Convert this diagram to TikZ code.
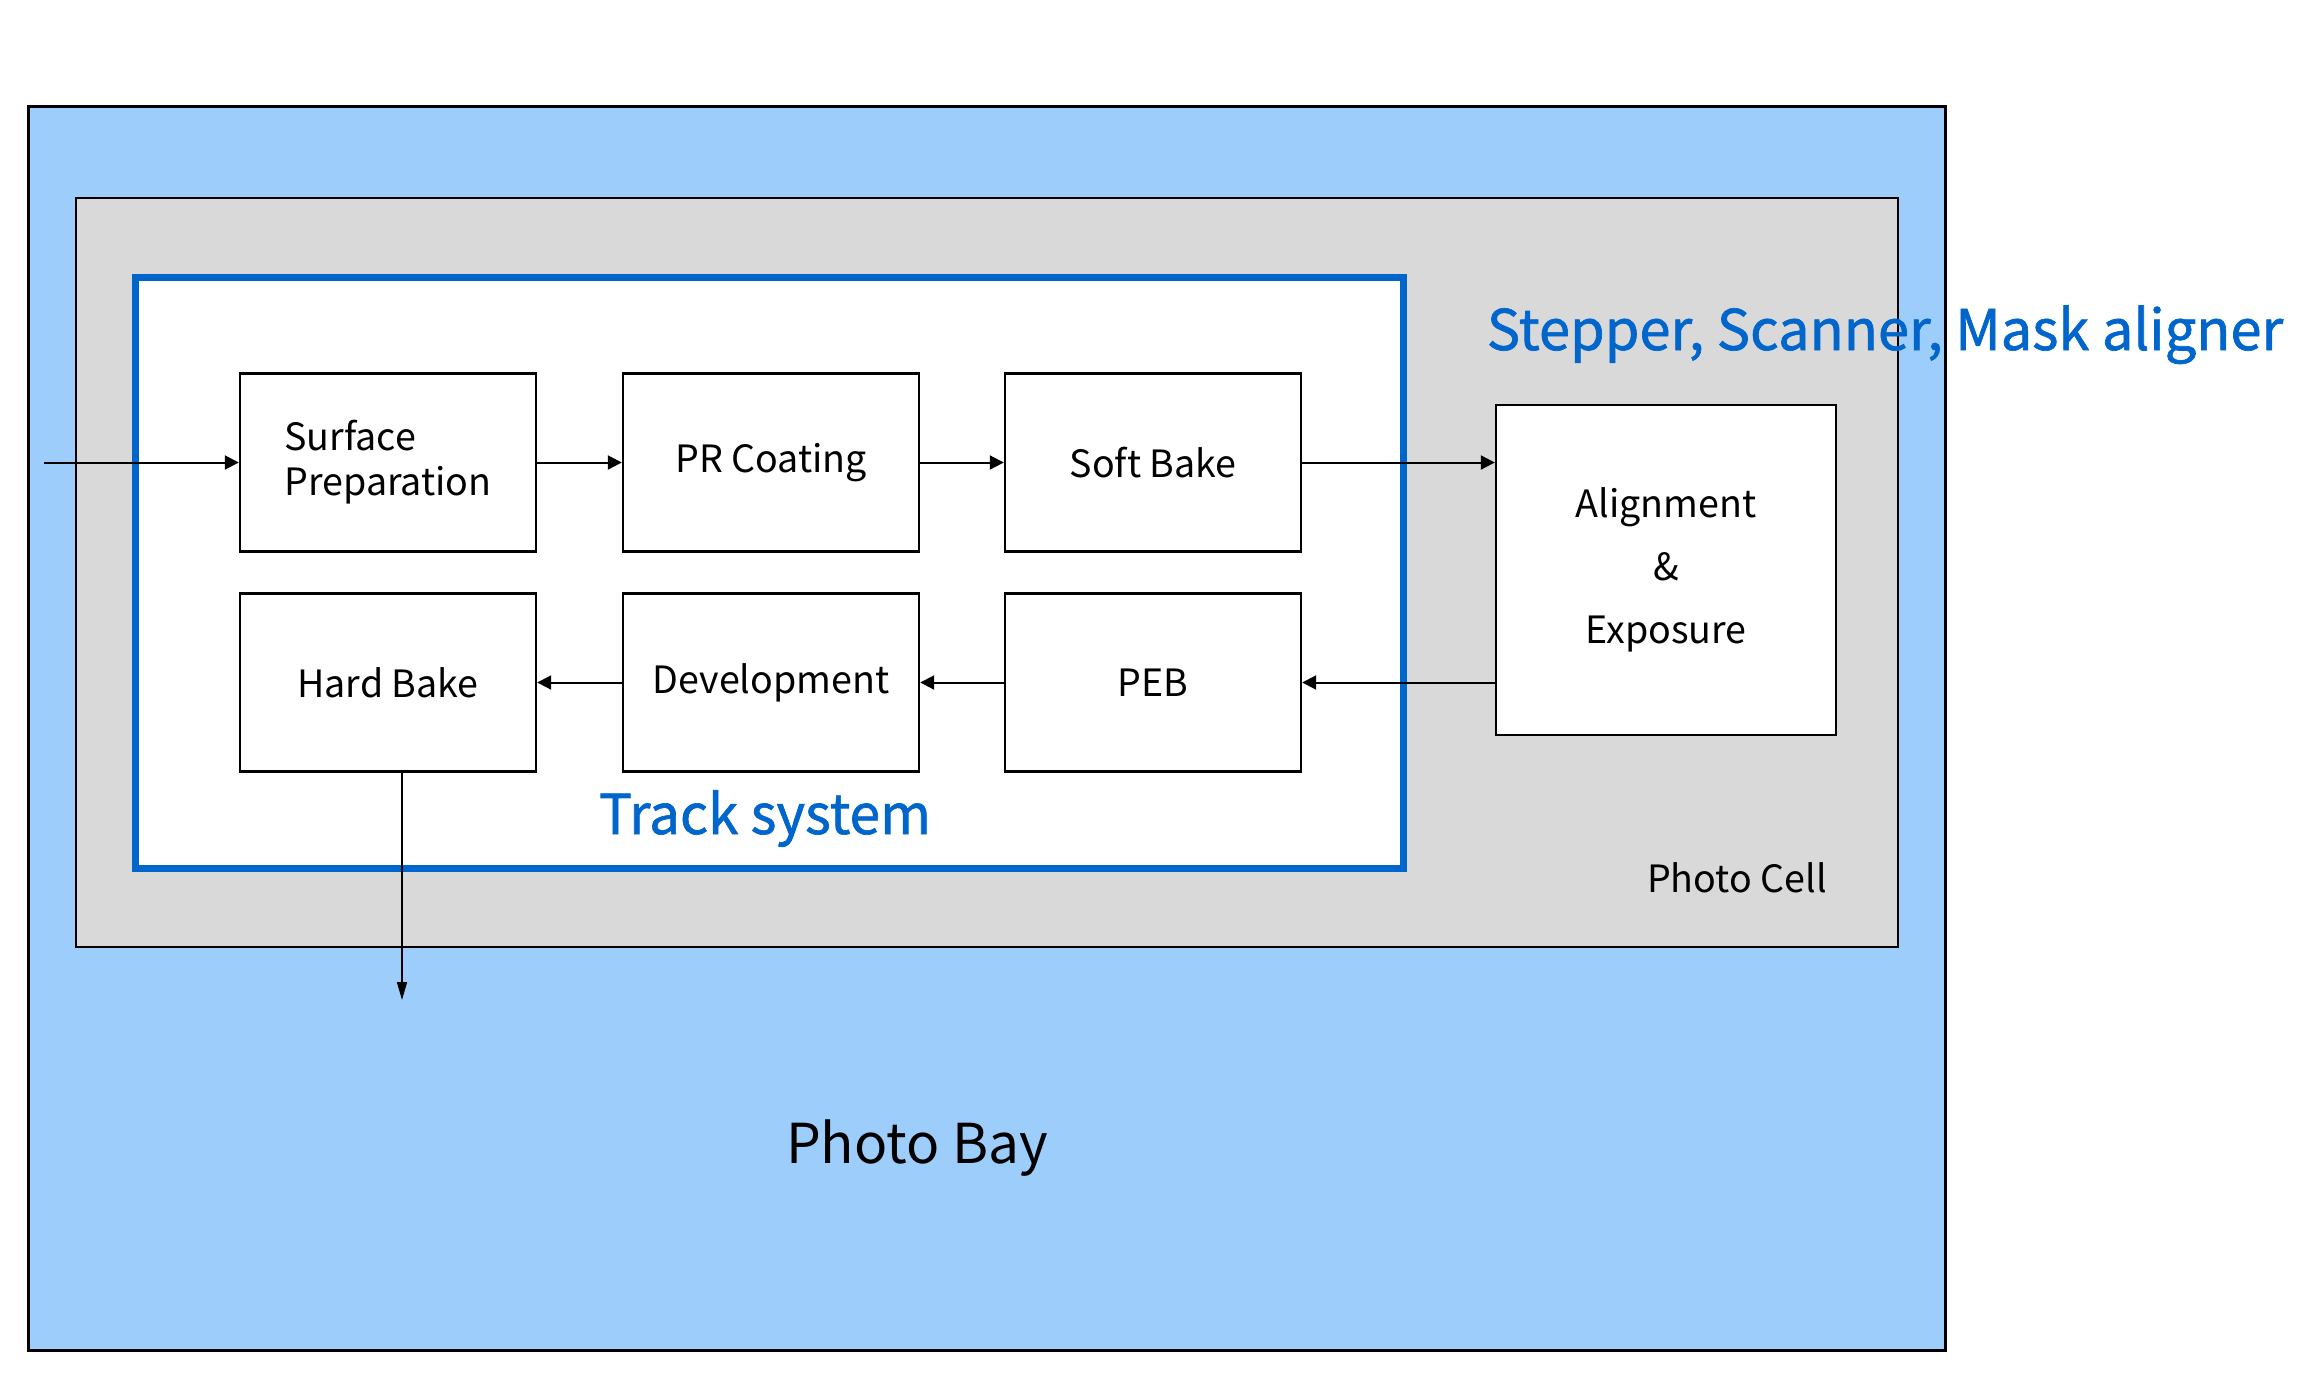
\documentclass[tikz,border=0pt]{standalone}
\usepackage{fontspec}
\newfontfamily\cjk{Noto Sans CJK SC}
\newfontfamily\cjkb[FakeBold=1.2]{Noto Sans CJK SC}
\usetikzlibrary{arrows.meta}
\definecolor{baycol}{RGB}{157,206,251}
\definecolor{cellcol}{RGB}{217,217,217}
\definecolor{trackcol}{RGB}{0,102,204}

\begin{document}
\begin{tikzpicture}[x=0.5pt,y=-0.5pt,
box/.style={draw,line width=1.2pt,fill=white,minimum width=148pt,minimum height=89pt,inner sep=0pt,font=\cjk\fontsize{18.8}{22.5}\selectfont},
flow/.style={line width=1pt,-{Triangle[length=7pt,width=7pt]}},
lbl/.style={font=\cjk\fontsize{18.8}{22.5}\selectfont},
biglbl/.style={font=\cjk\fontsize{27.5}{33}\selectfont},
bluelbl/.style={font=\cjkb\fontsize{27.5}{33}\selectfont,text=trackcol}]
\useasboundingbox(0,0)rectangle(2313,1386);
\draw[line width=1.5pt,fill=baycol](28,107)rectangle(1945,1350);
\draw[line width=1pt,fill=cellcol](76,198)rectangle(1898,947);
\draw[line width=3.5pt,draw=trackcol,fill=white](135,277)rectangle(1403,868);

\node[box,align=left](s1)at(388,462.5){Surface\\Preparation};
\node[box](s2)at(771,462.5){PR Coating};
\node[box](s3)at(1153,462.5){Soft Bake};
\node[box](s4)at(388,682.5){Hard Bake};
\node[box](s5)at(771,682.5){Development};
\node[box](s6)at(1153,682.5){PEB};
\node[box,minimum width=170pt,minimum height=165pt,align=center,font=\cjk\fontsize{18.8}{31.5}\selectfont](a1)at(1666,570){Alignment\\\&\\Exposure};

\coordinate(in)at(44,462.5);
\coordinate(out)at(402,1000);

\draw[flow](in)--(s1);
\draw[flow](s1)--(s2);
\draw[flow](s2)--(s3);
\draw[flow](s3)--(s3-|a1.west);
\draw[flow](a1.west|-s6)--(s6);
\draw[flow](s6)--(s5);
\draw[flow](s5)--(s4);
\draw[line width=0.8pt,-{Triangle[length=9pt,width=5pt]}](out|-s4.south)--(out);

\node[bluelbl,font=\cjkb\fontsize{28}{33}\selectfont,anchor=base](t1)at(1885,350){Stepper, Scanner, Mask aligner};
\node[bluelbl,anchor=base](t2)at(765,834){Track system};
\node[lbl,anchor=base](t3)at(1737,892){Photo Cell};
\node[biglbl,anchor=base](t4)at(917,1163){Photo Bay};

\end{tikzpicture}
\end{document}
